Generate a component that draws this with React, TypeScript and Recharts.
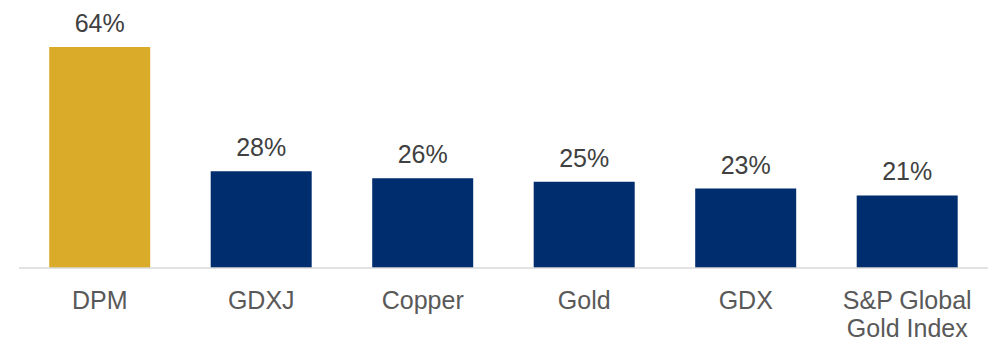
import React from "react"
import { Bar, BarChart, Cell, LabelList, XAxis, YAxis } from "recharts"

const categories = ["DPM", "GDXJ", "Copper", "Gold", "GDX", "S&P Global\nGold Index"]
const returns = [64, 28, 26, 25, 23, 21]
const barColors = ["#DAAA29", "#002D6E", "#002D6E", "#002D6E", "#002D6E", "#002D6E"]

const data = categories.map((name, i) => ({ name, value: returns[i] }))

const FONT = "'Liberation Sans', Arial, sans-serif"

const CategoryTick = ({ x, y, payload }: any) => {
  const lines = String(payload.value).split("\n")
  return (
    <text
      x={x}
      y={y}
      textAnchor="middle"
      fill="#595959"
      fontSize={25}
      fontFamily={FONT}
    >
      {lines.map((line, i) => (
        <tspan key={i} x={x} dy={i === 0 ? 33 : 28}>
          {line}
        </tspan>
      ))}
    </text>
  )
}

const ValueLabel = ({ x, y, width, value }: any) => (
  <text
    x={x + width / 2}
    y={y - 15}
    textAnchor="middle"
    fill="#404040"
    fontSize={25}
    fontFamily={FONT}
  >
    {value}%
  </text>
)

export default function App() {
  return (
    <div style={{ position: "absolute", left: 0, top: 0, background: "#fff" }}>
      <BarChart
        width={988}
        height={340}
        data={data}
        margin={{ top: 47, right: 0, bottom: 0, left: 19 }}
        barCategoryGap="18.7%"
      >
        <XAxis
          dataKey="name"
          height={72}
          interval={0}
          tickLine={false}
          axisLine={{ stroke: "#D9D9D9", strokeWidth: 1.5 }}
          tick={<CategoryTick />}
        />
        <YAxis hide domain={[0, 64]} />
        <Bar dataKey="value" isAnimationActive={false}>
          {data.map((d, i) => (
            <Cell key={d.name} fill={barColors[i]} />
          ))}
          <LabelList dataKey="value" content={<ValueLabel />} />
        </Bar>
      </BarChart>
    </div>
  )
}
